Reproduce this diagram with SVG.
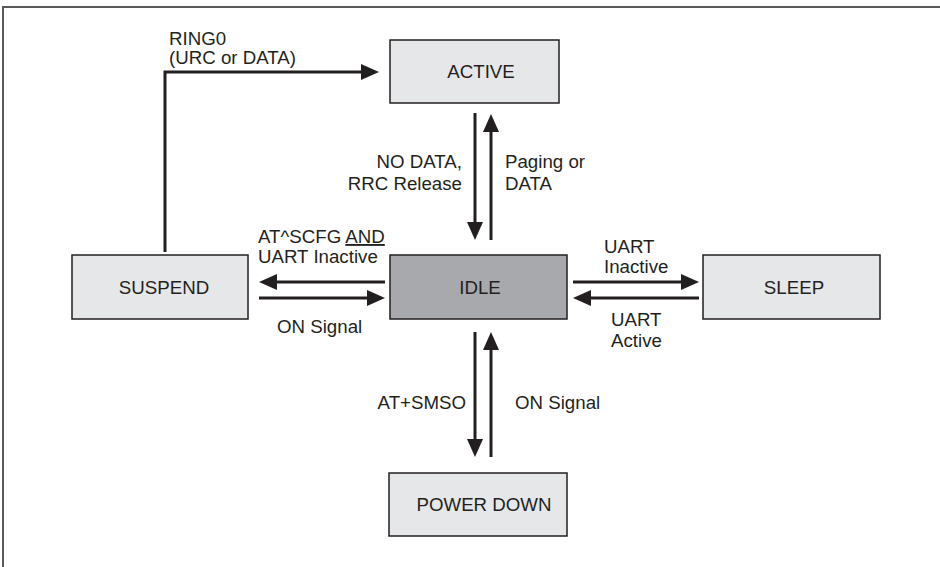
<svg xmlns="http://www.w3.org/2000/svg" width="940" height="567" viewBox="0 0 940 567">
<style>
.box{stroke:#231f20;stroke-width:1.5}
.lt{fill:#e6e7e8}
.dk{fill:#a7a9ac}
text{font-family:"Liberation Sans",Arial,sans-serif;font-size:18.7px;fill:#231f20}
.c{text-anchor:middle}
.e{text-anchor:end}
.ln{stroke:#231f20;stroke-width:3;fill:none}
</style>
<defs>
<marker id="ah" markerUnits="userSpaceOnUse" markerWidth="18" markerHeight="16" refX="8" refY="8" orient="auto">
<path d="M0,0 L18,8 L0,16 z" fill="#231f20"/>
</marker>
</defs>
<rect width="940" height="567" fill="#fff"/>
<path d="M3,567 V7 H940" fill="none" stroke="#58595b" stroke-width="2"/>
<g id="connectors">
<path class="ln" d="M165,252 V72 H369" marker-end="url(#ah)"/>
<line class="ln" x1="475" y1="113" x2="475" y2="230" marker-end="url(#ah)"/>
<line class="ln" x1="491" y1="240" x2="491" y2="124" marker-end="url(#ah)"/>
<line class="ln" x1="385" y1="282" x2="269" y2="282" marker-end="url(#ah)"/>
<line class="ln" x1="259" y1="298" x2="375" y2="298" marker-end="url(#ah)"/>
<line class="ln" x1="573" y1="282" x2="689" y2="282" marker-end="url(#ah)"/>
<line class="ln" x1="699" y1="298" x2="583" y2="298" marker-end="url(#ah)"/>
<line class="ln" x1="475" y1="332" x2="475" y2="447" marker-end="url(#ah)"/>
<line class="ln" x1="491" y1="457" x2="491" y2="342" marker-end="url(#ah)"/>
</g>
<g id="labels">
<text x="169" y="45">RING0</text>
<text x="169" y="64">(URC or DATA)</text>
<text class="e" x="462" y="168">NO DATA,</text>
<text class="e" x="462" y="190">RRC Release</text>
<text x="505" y="168">Paging or</text>
<text x="505" y="190">DATA</text>
<text x="258" y="243">AT^SCFG <tspan text-decoration="underline">AND</tspan></text>
<text x="258" y="263">UART Inactive</text>
<text x="277" y="333">ON Signal</text>
<text x="604" y="253">UART</text>
<text x="604" y="273">Inactive</text>
<text x="611" y="326">UART</text>
<text x="611" y="347">Active</text>
<text class="e" x="466" y="409">AT+SMSO</text>
<text x="515" y="409">ON Signal</text>
</g>
<g id="active"><rect class="box lt" x="390" y="40" width="169" height="63"/><text class="c" x="481" y="78">ACTIVE</text></g>
<g id="idle"><rect class="box dk" x="390" y="255" width="177" height="64"/><text class="c" x="480" y="294">IDLE</text></g>
<g id="suspend"><rect class="box lt" x="72" y="255" width="176" height="64"/><text class="c" x="164" y="294">SUSPEND</text></g>
<g id="sleep"><rect class="box lt" x="703" y="255" width="177" height="64"/><text class="c" x="794" y="294">SLEEP</text></g>
<g id="powerdown"><rect class="box lt" x="389" y="473" width="178" height="63"/><text class="c" x="484" y="511">POWER DOWN</text></g>
</svg>
